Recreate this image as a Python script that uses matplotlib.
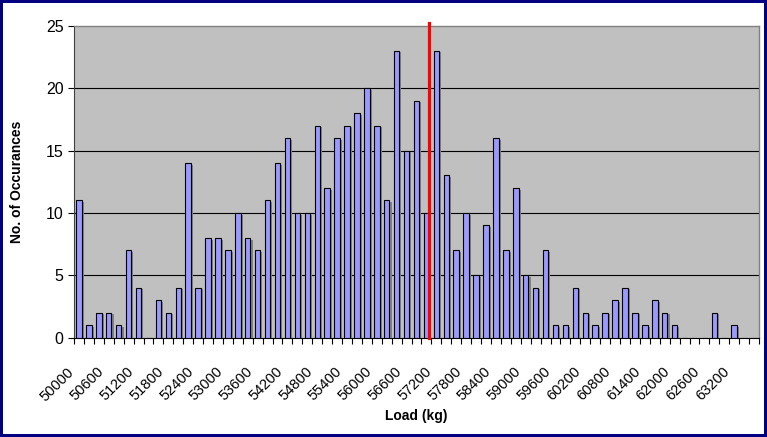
import matplotlib
matplotlib.use("Agg")
import matplotlib.pyplot as plt
import matplotlib.patheffects as pe
import matplotlib.transforms as mtransforms
import numpy as np

plt.rcParams["font.family"] = ["Liberation Sans", "DejaVu Sans"]

# Load bins (kg), 200 kg wide
load_bins = list(range(50000, 63800, 200))
occurrences = [
    11, 1, 2, 2, 1, 7, 4, 0, 3, 2,
    4, 14, 4, 8, 8, 7, 10, 8, 7, 11,
    14, 16, 10, 10, 17, 12, 16, 17, 18, 20,
    17, 11, 23, 15, 19, 10, 23, 13, 7, 10,
    5, 9, 16, 7, 12, 5, 4, 7, 1, 1,
    4, 2, 1, 2, 3, 4, 2, 1, 3, 2,
    1, 0, 0, 0, 2, 0, 1, 0, 0,
]
mean_load = 57056
y_ticks = [0, 5, 10, 15, 20, 25]

BAR_COLOR = "#9999FF"
PLOT_BG = "#C0C0C0"
BORDER = "#000080"

fig = plt.figure(figsize=(7.67, 4.37), dpi=100)
fig.patch.set_facecolor("white")
fig.patch.set_edgecolor(BORDER)
fig.patch.set_linewidth(3)

ax = fig.add_axes([0.0965, 0.2272, 0.8931, 0.714])
ax.set_facecolor(PLOT_BG)

x = np.arange(len(load_bins))
bars = ax.bar(x, occurrences, width=0.55, color=BAR_COLOR,
              edgecolor="black", linewidth=0.8, zorder=3)
for b in bars:
    b.set_path_effects([pe.SimplePatchShadow(offset=(1.5, -1.2),
                                             shadow_rgbFace="#808080", alpha=1.0),
                        pe.Normal()])

# mean load marker
mean_pos = (mean_load - load_bins[0]) / 200
ax.plot([mean_pos, mean_pos], [0, 25.2], color="red", linewidth=2.3,
        zorder=4, clip_on=False)

ax.set_xlim(-0.5, len(load_bins) - 0.5)
ax.set_ylim(0, 25)

# gridlines
for yv in y_ticks[1:-1]:
    ax.axhline(yv, color="black", linewidth=0.8, zorder=1)

ax.set_yticks(y_ticks)
ax.tick_params(axis="y", direction="out", length=4.5, width=0.8,
               labelsize=11.5, pad=3)

# labels every third bin, tick marks on bin boundaries
ax.set_xticks(x[::3])
ax.set_xticklabels([str(v) for v in load_bins[::3]], rotation=45,
                   ha="right", va="center", rotation_mode="anchor", fontsize=10.5)
ax.set_xticks(np.arange(len(load_bins) + 1) - 0.5, minor=True)
ax.tick_params(axis="x", which="major", length=0, pad=23)
ax.tick_params(axis="x", which="minor", direction="out", length=4, width=0.8)
shift = mtransforms.ScaledTranslation(-7 / 100, 0, fig.dpi_scale_trans)
for lbl in ax.get_xticklabels():
    lbl.set_transform(lbl.get_transform() + shift)

for side in ("top", "right"):
    ax.spines[side].set_color("#808080")
    ax.spines[side].set_linewidth(1)
ax.spines["left"].set_color("#404040")
ax.spines["bottom"].set_color("black")

ax.set_xlabel("Load (kg)", fontsize=10, fontweight="bold", labelpad=4)
ax.set_ylabel("No. of Occurances", fontsize=10, fontweight="bold", labelpad=16)

fig.savefig("out.png", dpi=100, facecolor="white", edgecolor=BORDER)
